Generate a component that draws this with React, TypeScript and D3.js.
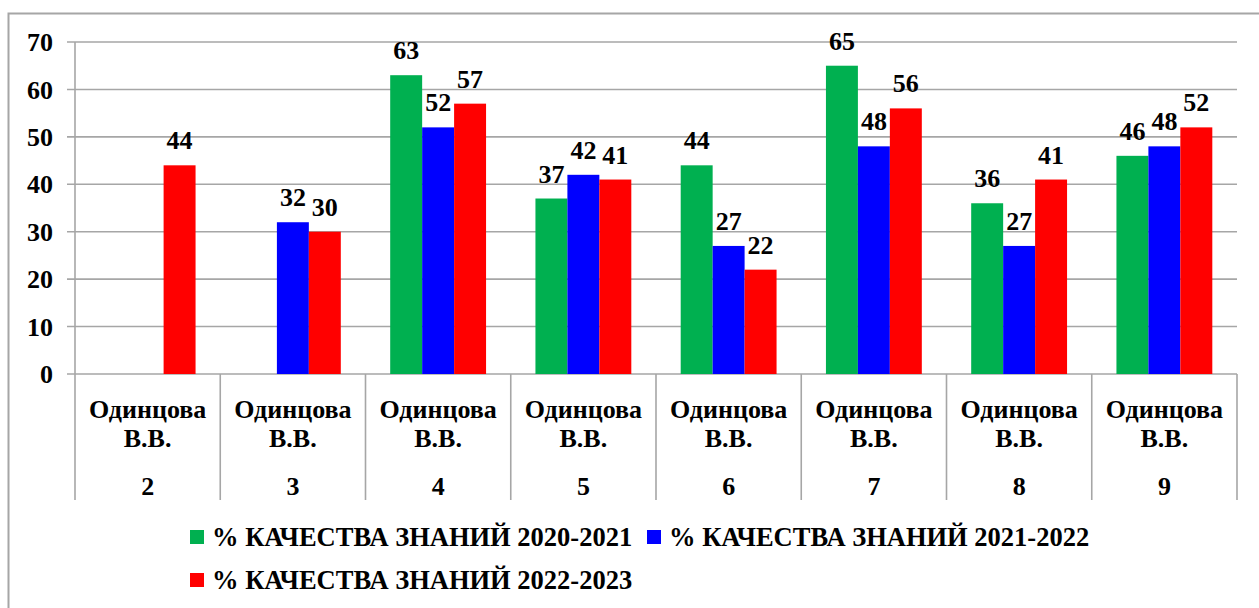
import React from 'react';
import * as d3 from 'd3';

const teachers = ['Одинцова В.В.', 'Одинцова В.В.', 'Одинцова В.В.', 'Одинцова В.В.', 'Одинцова В.В.', 'Одинцова В.В.', 'Одинцова В.В.', 'Одинцова В.В.'];
const grades = ['2', '3', '4', '5', '6', '7', '8', '9'];
const seriesNames = ['% КАЧЕСТВА ЗНАНИЙ 2020-2021', '% КАЧЕСТВА ЗНАНИЙ 2021-2022', '% КАЧЕСТВА ЗНАНИЙ 2022-2023'];
const q2021 = [null, null, 63, 37, 44, 65, 36, 46];
const q2022 = [null, 32, 52, 42, 27, 48, 27, 48];
const q2023 = [44, 30, 57, 41, 22, 56, 41, 52];
const yTicks = [0, 10, 20, 30, 40, 50, 60, 70];
const colors = ['#00B050', '#0000FF', '#FF0000'];

const W = 1259;
const H = 608;
const left = 75;
const right = 1237;
const top = 42;
const bottom = 374;
const grid = '#A6A6A6';
const ts = { fontFamily: "'Liberation Serif', serif", fontWeight: 'bold' as const };

export default function App() {
  const series = [q2021, q2022, q2023];
  const x0 = d3.scaleBand<number>().domain(grades.map((_, i) => i)).range([left, right]).padding(0);
  const bw = x0.bandwidth();
  const groupW = bw * 0.66;
  const x1 = d3.scaleBand<number>().domain([0, 1, 2]).range([(bw - groupW) / 2, (bw + groupW) / 2]).padding(0);
  const y = d3.scaleLinear().domain([0, 70]).range([bottom, top]);

  const legend = [
    { i: 0, x: 190, y: 537 },
    { i: 1, x: 647, y: 537 },
    { i: 2, x: 190, y: 580 },
  ];

  return (
    <svg width={W} height={H} style={{ position: 'absolute', left: 0, top: 0, background: '#fff' }}>
      <rect x={8.5} y={13.5} width={W + 10} height={H + 10} fill="#fff" stroke={grid} strokeWidth={2} />

      {yTicks.map(t => (
        <g key={t}>
          <line x1={67} x2={right} y1={y(t)} y2={y(t)} stroke={grid} strokeWidth={1.6} />
          <text x={53} y={y(t)} dy="0.35em" textAnchor="end" fontSize={26} style={ts}>{t}</text>
        </g>
      ))}
      <line x1={left} x2={left} y1={top} y2={bottom} stroke={grid} strokeWidth={1.6} />

      {grades.map((g, i) => (
        <line key={'s' + i} x1={x0(i)!} x2={x0(i)!} y1={bottom} y2={500} stroke={grid} strokeWidth={1.6} />
      ))}
      <line x1={right} x2={right} y1={bottom} y2={500} stroke={grid} strokeWidth={1.6} />

      {series.map((vals, s) => (
        <g key={'b' + s}>
          {vals.map((v, i) => v == null ? null : (
            <g key={i}>
              <rect x={x0(i)! + x1(s)!} y={y(v)} width={x1.bandwidth()} height={bottom - y(v)} fill={colors[s]} />
              <text x={x0(i)! + x1(s)! + x1.bandwidth() / 2} y={y(v) - 16} textAnchor="middle" fontSize={26} style={ts}>{v}</text>
            </g>
          ))}
        </g>
      ))}

      {grades.map((g, i) => {
        const cx = x0(i)! + bw / 2;
        const [first, second] = teachers[i].split(' ');
        return (
          <g key={'c' + i} fontSize={26} textAnchor="middle">
            <text x={cx} y={409} dy="0.35em" style={ts}>{first}</text>
            <text x={cx} y={438} dy="0.35em" style={ts}>{second}</text>
            <text x={cx} y={486} dy="0.35em" style={ts}>{g}</text>
          </g>
        );
      })}

      {legend.map(l => (
        <g key={'l' + l.i}>
          <rect x={l.x} y={l.y - 7} width={14} height={14} fill={colors[l.i]} />
          <text x={l.x + 22} y={l.y} dy="0.35em" fontSize={26.5} style={ts}>{seriesNames[l.i]}</text>
        </g>
      ))}
    </svg>
  );
}
